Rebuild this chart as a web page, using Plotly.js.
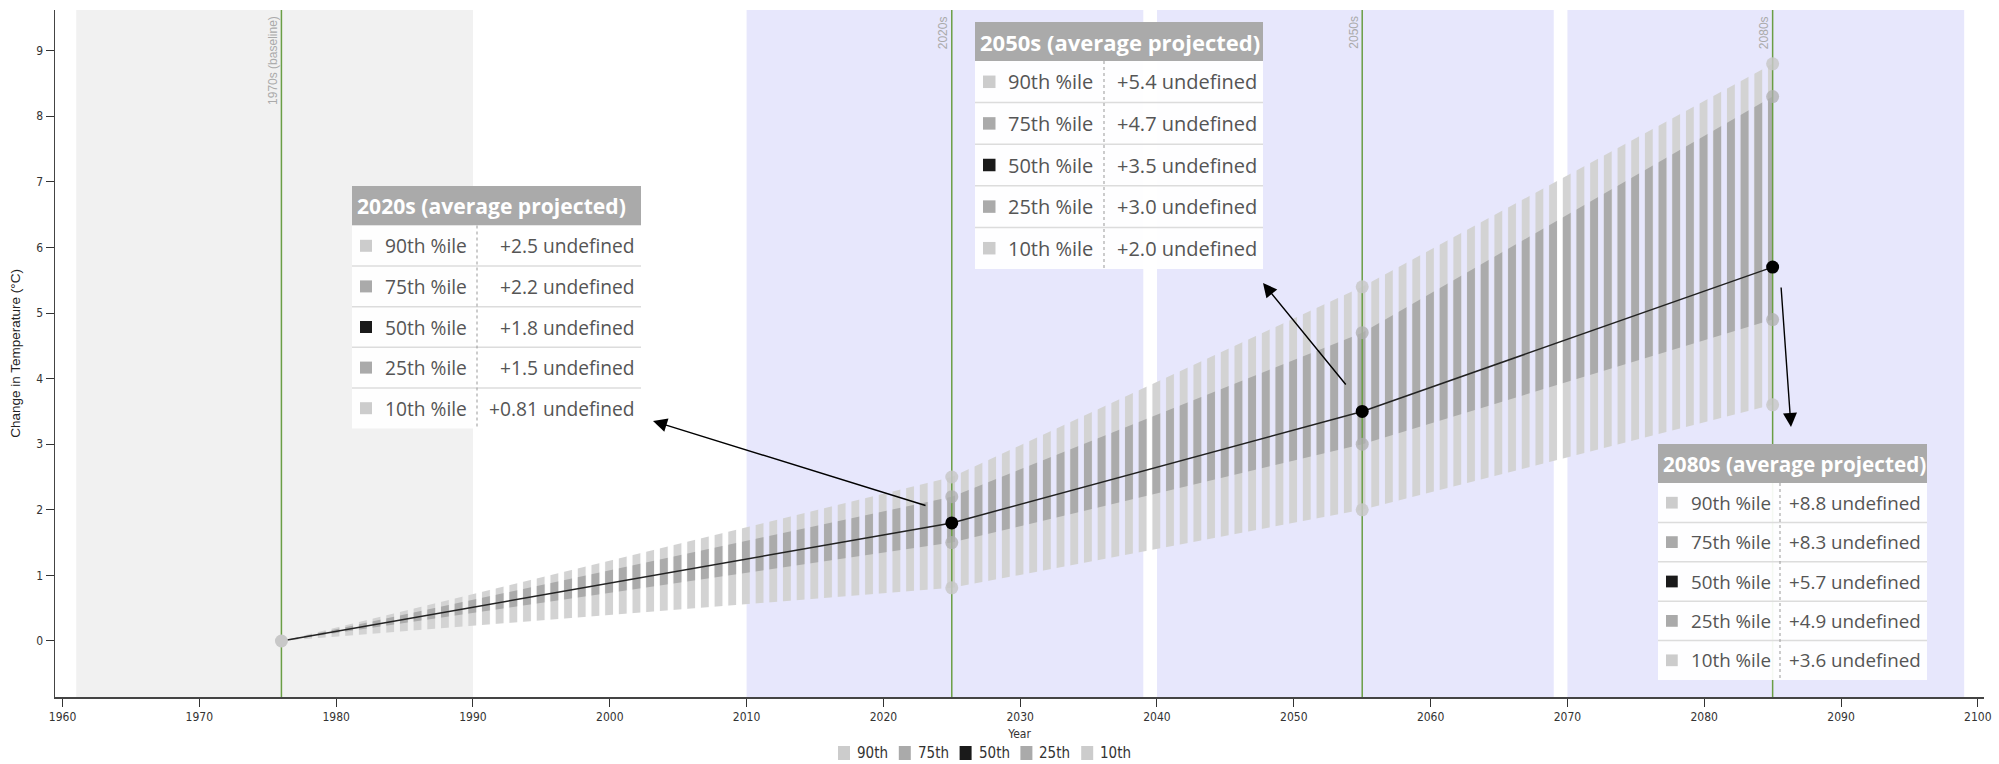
<!DOCTYPE html>
<html><head><meta charset="utf-8">
<script src="https://cdn.plot.ly/plotly-3.0.1.min.js"></script>
<style>html,body{margin:0;padding:0;background:#fff}#chart{width:1999px;height:764px}</style>
</head><body><div id="chart"></div>
<script>
// ---------- data ----------
const years = [1976, 2025, 2055, 2085];
const p90 = [0, 2.5, 5.4, 8.8];
const p75 = [0, 2.2, 4.7, 8.3];
const p50 = [0, 1.8, 3.5, 5.7];
const p25 = [0, 1.5, 3.0, 4.9];
const p10 = [0, 0.81, 2.0, 3.6];
const legendNames = ['90th', '75th', '50th', '25th', '10th'];
const rowNames = ['90th %ile', '75th %ile', '50th %ile', '25th %ile', '10th %ile'];
const periodLabels = ['1970s (baseline)', '2020s', '2050s', '2080s'];
const tableTitles = ['2020s (average projected)', '2050s (average projected)', '2080s (average projected)'];
const valueUnit = 'undefined';
const periodStart = [1961, 2010, 2040, 2070];
const periodEnd = [1990, 2039, 2069, 2099];
const xTicks = [1960, 1970, 1980, 1990, 2000, 2010, 2020, 2030, 2040, 2050, 2060, 2070, 2080, 2090, 2100];
const yTicks = [0, 1, 2, 3, 4, 5, 6, 7, 8, 9];
const xTitle = 'Year';
const yTitle = 'Change in Temperature (°C)';

// ---------- layout geometry ----------
const W = 1999, H = 764;
const M = {l: 55, r: 15, t: 10, b: 67, autoexpand: false};
const PW = W - M.l - M.r, PH = H - M.t - M.b;
const xRange = [1959.45, 2100.45];
const yRange = [-0.854, 9.62];
const pxPerYear = PW / (xRange[1] - xRange[0]);
const px2x = px => (px - M.l) / PW;
const py2y = py => (H - M.b - py) / PH;

const LIGHT = '#d3d3d3', DARK = '#ababab';
const swatchColors = ['#cccccc', '#aaaaaa', '#1a1a1a', '#aaaaaa', '#cccccc'];
const series = [p90, p75, p50, p25, p10];
const narrow = 'Liberation Sans Narrow, DejaVu Sans Condensed, Arial Narrow, Liberation Sans, sans-serif';

const traces = [];
traces.push({x: years, y: p10, mode: 'lines', line: {width: 0}, showlegend: false, hoverinfo: 'skip'});
traces.push({x: years, y: p90, mode: 'lines', line: {width: 0}, fill: 'tonexty', fillcolor: 'rgba(0,0,0,0)',
  fillpattern: {shape: '|', size: pxPerYear, solidity: 0.58, fgcolor: LIGHT, bgcolor: 'rgba(0,0,0,0)', fillmode: 'replace'},
  showlegend: false, hoverinfo: 'skip'});
traces.push({x: years, y: p25, mode: 'lines', line: {width: 0}, showlegend: false, hoverinfo: 'skip'});
traces.push({x: years, y: p75, mode: 'lines', line: {width: 0}, fill: 'tonexty', fillcolor: 'rgba(0,0,0,0)',
  fillpattern: {shape: '|', size: pxPerYear, solidity: 0.58, fgcolor: DARK, bgcolor: 'rgba(0,0,0,0)', fillmode: 'replace'},
  showlegend: false, hoverinfo: 'skip'});
const gx = [], gy = [];
years.forEach(c => { gx.push(c, c, null); gy.push(yRange[0], yRange[1], null); });
traces.push({x: gx, y: gy, mode: 'lines', line: {color: '#6a9e45', width: 1.5}, showlegend: false, hoverinfo: 'skip'});
traces.push({x: years, y: p50, mode: 'lines', line: {color: '#222', width: 1.5}, showlegend: false, hoverinfo: 'skip'});
[[p10, 'rgba(200,200,200,0.85)'], [p25, 'rgba(175,175,175,0.75)'], [p75, 'rgba(175,175,175,0.75)'], [p90, 'rgba(200,200,200,0.85)']].forEach(([s, c]) => {
  traces.push({x: years.slice(1), y: s.slice(1), mode: 'markers', marker: {size: 13, color: c}, showlegend: false, hoverinfo: 'skip'});
});
traces.push({x: years, y: p50, mode: 'markers',
  marker: {size: 13, color: years.map((_, i) => i === 0 ? '#c8c8c8' : '#000')}, showlegend: false, hoverinfo: 'skip'});

// ---------- shapes & annotations ----------
const shapes = [];
const annotations = [];
periodStart.forEach((s, i) => {
  shapes.push({type: 'rect', layer: 'below', xref: 'x', yref: 'paper', x0: s, x1: periodEnd[i], y0: 0, y1: 1,
    fillcolor: i === 0 ? '#f1f1f1' : '#e7e7fc', line: {width: 0}});
});
periodLabels.forEach((t, i) => {
  annotations.push({x: years[i], y: 1, xref: 'x', yref: 'paper', text: t, showarrow: false, textangle: -90,
    xanchor: 'right', yanchor: 'top', xshift: 0, yshift: -4,
    font: {family: 'Liberation Sans, Arial, sans-serif', size: 12, color: '#aaaaaa'}});
});

// tables (pixel geometry, per-table scale)
const boxes = [
  {x0: 352, x1: 641, top: 186, hh: 39.5, rh: 40.6, div: 477, s: 0.96},
  {x0: 975, x1: 1263, top: 22, hh: 39, rh: 41.6, div: 1104, s: 1},
  {x0: 1658, x1: 1927, top: 444, hh: 39, rh: 39.4, div: 1780, s: 0.94}
];
const fmt = v => '+' + v.toPrecision(2) + ' ' + valueUnit;
const tFont = 'Open Sans, sans-serif';
boxes.forEach((b, t) => {
  const col = t + 1;
  const hb = b.top + b.hh;
  const bottom = hb + 5 * b.rh;
  shapes.push({type: 'rect', xref: 'paper', yref: 'paper', x0: px2x(b.x0), x1: px2x(b.x1), y0: py2y(b.top), y1: py2y(hb),
    fillcolor: '#aaaaaa', line: {width: 0}});
  shapes.push({type: 'rect', xref: 'paper', yref: 'paper', x0: px2x(b.x0), x1: px2x(b.x1), y0: py2y(hb), y1: py2y(bottom),
    fillcolor: 'rgba(255,255,255,0.93)', line: {width: 0}});
  for (let r = 1; r < 5; r++) {
    const yy = py2y(hb + r * b.rh);
    shapes.push({type: 'line', xref: 'paper', yref: 'paper', x0: px2x(b.x0), x1: px2x(b.x1), y0: yy, y1: yy,
      line: {color: '#dcdcdc', width: 1.5}});
  }
  shapes.push({type: 'line', xref: 'paper', yref: 'paper', x0: px2x(b.div), x1: px2x(b.div), y0: py2y(hb), y1: py2y(bottom),
    line: {color: '#999', width: 1, dash: 'dot'}});
  annotations.push({xref: 'paper', yref: 'paper', x: px2x(b.x0 + 3), y: py2y(b.top + b.hh / 2), xanchor: 'left', yanchor: 'middle',
    text: '<b>' + tableTitles[t] + '</b>', showarrow: false, font: {family: tFont, size: 22 * b.s, color: '#fff'}});
  rowNames.forEach((rn, r) => {
    const cy = hb + (r + 0.5) * b.rh;
    const sw = 12.5 * b.s;
    shapes.push({type: 'rect', xref: 'paper', yref: 'paper', x0: px2x(b.x0 + 8), x1: px2x(b.x0 + 8 + sw), y0: py2y(cy - sw / 2), y1: py2y(cy + sw / 2),
      fillcolor: swatchColors[r], line: {width: 0}});
    annotations.push({xref: 'paper', yref: 'paper', x: px2x(b.x0 + 31), y: py2y(cy), xanchor: 'left', yanchor: 'middle',
      text: rn, showarrow: false, font: {family: tFont, size: 20 * b.s, color: '#555'}});
    annotations.push({xref: 'paper', yref: 'paper', x: px2x(b.x1 - 4), y: py2y(cy), xanchor: 'right', yanchor: 'middle',
      text: fmt(series[r][col]), showarrow: false, font: {family: tFont, size: 20 * b.s, color: '#555'}});
  });
});
const arrows = [
  {hx: 653, hy: 421, tx: 927, ty: 506},
  {hx: 1263, hy: 283, tx: 1347, ty: 386},
  {hx: 1791, hy: 427, tx: 1781, ty: 286}
];
arrows.forEach(a => {
  annotations.push({xref: 'paper', yref: 'paper', x: px2x(a.hx), y: py2y(a.hy), ax: a.tx - a.hx, ay: a.ty - a.hy,
    axref: 'pixel', ayref: 'pixel', text: '', showarrow: true, arrowhead: 2, arrowsize: 2, arrowwidth: 1.4, arrowcolor: '#000'});
});

// legend (drawn manually for exact spacing)
const legendX0 = 838, legendStep = 60.8, legendY = 753;
legendNames.forEach((n, i) => {
  const lx = legendX0 + i * legendStep;
  shapes.push({type: 'rect', xref: 'paper', yref: 'paper', x0: px2x(lx), x1: px2x(lx + 12), y0: py2y(legendY - 7), y1: py2y(legendY + 7),
    fillcolor: swatchColors[i], line: {width: 0}});
  annotations.push({xref: 'paper', yref: 'paper', x: px2x(lx + 17), y: py2y(legendY), xanchor: 'left', yanchor: 'middle',
    text: n, showarrow: false, font: {family: narrow, size: 15, color: '#333'}});
});

const axisFont = {family: narrow, size: 12, color: '#333'};
const layout = {
  width: W, height: H, margin: M,
  paper_bgcolor: '#fff', plot_bgcolor: '#fff',
  showlegend: false,
  xaxis: {range: xRange, tickvals: xTicks, ticktext: xTicks.map(String), ticks: 'outside', ticklen: 8, tickcolor: '#333',
    showline: true, linecolor: '#444', linewidth: 1.5, showgrid: false, zeroline: false, tickfont: axisFont,
    title: {text: xTitle, font: axisFont, standoff: 6}},
  yaxis: {range: yRange, tickvals: yTicks, ticktext: yTicks.map(String), ticks: 'outside', ticklen: 8, tickcolor: '#333',
    showline: true, linecolor: '#444', linewidth: 1.5, showgrid: false, zeroline: false, tickfont: axisFont,
    title: {text: yTitle, font: {family: 'Liberation Sans, Arial, sans-serif', size: 13.5, color: '#222'}, standoff: 12}},
  shapes: shapes,
  annotations: annotations
};
Plotly.newPlot('chart', traces, layout, {displayModeBar: false, staticPlot: true});
</script>
</body></html>
